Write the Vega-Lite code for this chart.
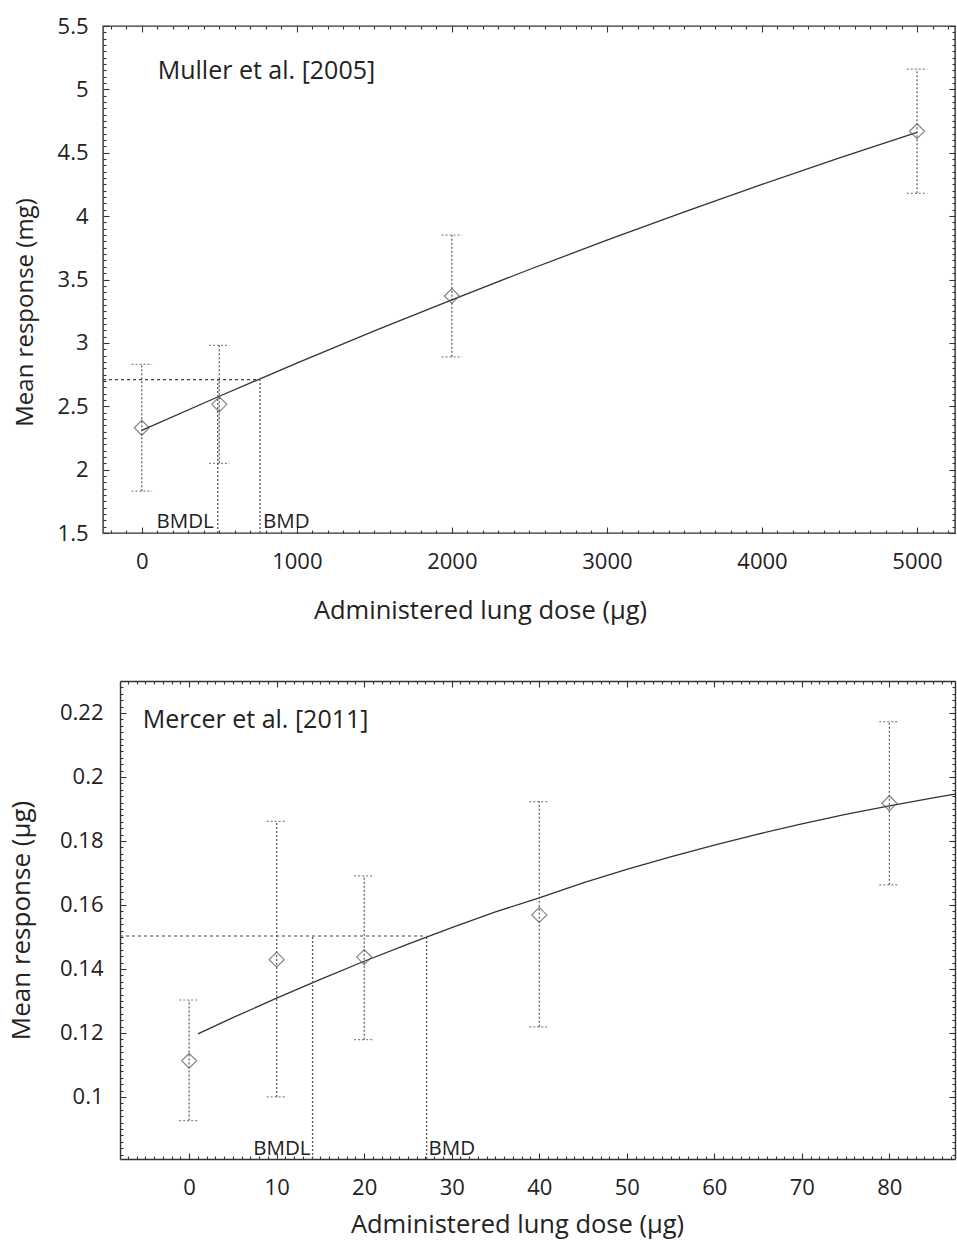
{
  "$schema": "https://vega.github.io/schema/vega-lite/v6.json",
  "background": "white",
  "padding": {"left": 8, "top": 14, "right": 2, "bottom": 2},
  "spacing": 45,
  "datasets": {
    "mullerObs": [
      {"dose": 0, "mean": 2.33, "lo": 1.83, "hi": 2.83},
      {"dose": 500, "mean": 2.515, "lo": 2.05, "hi": 2.98},
      {"dose": 2000, "mean": 3.37, "lo": 2.89, "hi": 3.85},
      {"dose": 5000, "mean": 4.67, "lo": 4.18, "hi": 5.16}
    ],
    "mullerFit": [
      {"dose": 0, "resp": 2.31},
      {"dose": 500, "resp": 2.579},
      {"dose": 1000, "resp": 2.84},
      {"dose": 1500, "resp": 3.094},
      {"dose": 2000, "resp": 3.34},
      {"dose": 2500, "resp": 3.579},
      {"dose": 3000, "resp": 3.81},
      {"dose": 3500, "resp": 4.034},
      {"dose": 4000, "resp": 4.25},
      {"dose": 4500, "resp": 4.459},
      {"dose": 5000, "resp": 4.66}
    ],
    "mullerBmd": [
      {"name": "BMDL", "dose": 490, "level": 2.71, "floor": 1.5, "start": -250},
      {"name": "BMD", "dose": 763, "level": 2.71, "floor": 1.5, "start": -250}
    ],
    "mullerNote": [{"dose": 103, "resp": 5.08, "text": "Muller et al. [2005]"}],
    "mercerObs": [
      {"dose": 0, "mean": 0.1113, "lo": 0.0926, "hi": 0.1303},
      {"dose": 10, "mean": 0.1429, "lo": 0.1, "hi": 0.1861},
      {"dose": 20, "mean": 0.1437, "lo": 0.1179, "hi": 0.1691},
      {"dose": 40, "mean": 0.1569, "lo": 0.1219, "hi": 0.1923},
      {"dose": 80, "mean": 0.1918, "lo": 0.1663, "hi": 0.2173}
    ],
    "mercerFit": [
      {"dose": 1, "resp": 0.1197},
      {"dose": 5, "resp": 0.12477},
      {"dose": 10, "resp": 0.13089},
      {"dose": 15, "resp": 0.13677},
      {"dose": 20, "resp": 0.1424},
      {"dose": 25, "resp": 0.14779},
      {"dose": 30, "resp": 0.15294},
      {"dose": 35, "resp": 0.15784},
      {"dose": 40, "resp": 0.1622},
      {"dose": 45, "resp": 0.16692},
      {"dose": 50, "resp": 0.17109},
      {"dose": 55, "resp": 0.17502},
      {"dose": 60, "resp": 0.1787},
      {"dose": 65, "resp": 0.18214},
      {"dose": 70, "resp": 0.18534},
      {"dose": 75, "resp": 0.18829},
      {"dose": 80, "resp": 0.191},
      {"dose": 85, "resp": 0.19347},
      {"dose": 87.5, "resp": 0.19461}
    ],
    "mercerBmd": [
      {"name": "BMDL", "dose": 14.1, "level": 0.1503, "floor": 0.0806, "start": -7.9},
      {"name": "BMD", "dose": 27.13, "level": 0.1503, "floor": 0.0806, "start": -7.9}
    ],
    "mercerNote": [{"dose": -5.3, "resp": 0.2153, "text": "Mercer et al. [2011]"}]
  },
  "config": {
    "view": {"stroke": "#333", "strokeWidth": 1.4},
    "axis": {
      "domain": false, "grid": false,
      "tickColor": "#333", "tickWidth": 1.1,
      "labelFont": "Open Sans", "labelFontSize": 22, "labelColor": "#222",
      "titleFont": "Open Sans", "titleFontSize": 25, "titleFontWeight": "normal", "titleColor": "#222",
      "labelOverlap": false, "labelFlush": false
    },
    "text": {"font": "Open Sans", "color": "#222"}
  },
  "vconcat": [
    {
      "width": 852, "height": 507,
      "resolve": {"axis": {"x": "independent", "y": "independent"}},
      "layer": [
        {
          "data": {"name": "mullerObs"},
          "mark": {"type": "rule", "strokeDash": [2, 2], "color": "#555", "strokeWidth": 1.2},
          "encoding": {
            "x": {"field": "dose", "type": "quantitative",
              "scale": {"domain": [-250, 5245], "nice": false, "zero": false},
              "axis": {"title": "Administered lung dose (μg)", "tickCount": 55, "format": "~r",
                "labelExpr": "abs(datum.value/1000 - round(datum.value/1000)) < 1e-6 ? datum.label : ''",
                "tickSize": {"condition": {"test": "abs(datum.value/1000 - round(datum.value/1000)) < 1e-6", "value": -6}, "value": -3},
                "labelPadding": 24, "titlePadding": 23, "titleFontSize": 25.5, "titleX": 377}},
            "y": {"field": "lo", "type": "quantitative",
              "scale": {"domain": [1.5, 5.5], "nice": false, "zero": false},
              "axis": {"title": "Mean response (mg)", "tickCount": 80, "format": "~r",
                "labelExpr": "abs(datum.value*2 - round(datum.value*2)) < 1e-6 ? datum.label : ''",
                "tickSize": {"condition": {"test": "abs(datum.value*2 - round(datum.value*2)) < 1e-6", "value": -6}, "value": -3},
                "labelPadding": 21, "titlePadding": 20, "titleFontSize": 24, "titleY": 286}},
            "y2": {"field": "hi"}
          }
        },
        {
          "data": {"name": "mullerFit"},
          "mark": {"type": "line", "color": "#333", "strokeWidth": 1.3},
          "encoding": {
            "x": {"field": "dose", "type": "quantitative",
              "axis": {"orient": "top", "title": null, "labels": false, "tickCount": 55,
                "tickSize": {"condition": {"test": "abs(datum.value/1000 - round(datum.value/1000)) < 1e-6", "value": -6}, "value": -3}}},
            "y": {"field": "resp", "type": "quantitative",
              "axis": {"orient": "right", "title": null, "labels": false, "tickCount": 80,
                "tickSize": {"condition": {"test": "abs(datum.value*2 - round(datum.value*2)) < 1e-6", "value": -6}, "value": -3}}}
          }
        },
        {
          "data": {"name": "mullerObs"},
          "mark": {"type": "point", "shape": "M-1,0H1", "size": 420, "filled": false, "strokeDash": [2, 2], "color": "#555", "strokeWidth": 1.2},
          "encoding": {
            "x": {"field": "dose", "type": "quantitative", "axis": null},
            "y": {"field": "hi", "type": "quantitative", "axis": null}
          }
        },
        {
          "data": {"name": "mullerObs"},
          "mark": {"type": "point", "shape": "M-1,0H1", "size": 420, "filled": false, "strokeDash": [2, 2], "color": "#555", "strokeWidth": 1.2},
          "encoding": {
            "x": {"field": "dose", "type": "quantitative", "axis": null},
            "y": {"field": "lo", "type": "quantitative", "axis": null}
          }
        },
        {
          "data": {"name": "mullerObs"},
          "mark": {"type": "point", "shape": "diamond", "size": 225, "filled": false, "color": "#555", "strokeWidth": 1.2},
          "encoding": {
            "x": {"field": "dose", "type": "quantitative", "axis": null},
            "y": {"field": "mean", "type": "quantitative", "axis": null}
          }
        },
        {
          "data": {"name": "mullerBmd"},
          "transform": [{"filter": "datum.name === 'BMD'"}],
          "mark": {"type": "rule", "strokeDash": [3, 3], "color": "#444", "strokeWidth": 1.2},
          "encoding": {
            "x": {"field": "start", "type": "quantitative", "axis": null},
            "x2": {"field": "dose"},
            "y": {"field": "level", "type": "quantitative", "axis": null}
          }
        },
        {
          "data": {"name": "mullerBmd"},
          "mark": {"type": "rule", "strokeDash": [2, 2], "color": "#555", "strokeWidth": 1.3},
          "encoding": {
            "x": {"field": "dose", "type": "quantitative", "axis": null},
            "y": {"field": "floor", "type": "quantitative", "axis": null},
            "y2": {"field": "level"}
          }
        },
        {
          "data": {"name": "mullerBmd"},
          "transform": [{"filter": "datum.name === 'BMDL'"}],
          "mark": {"type": "text", "align": "right", "baseline": "alphabetic", "dx": -4, "dy": -5, "fontSize": 20.5},
          "encoding": {
            "x": {"field": "dose", "type": "quantitative", "axis": null},
            "y": {"field": "floor", "type": "quantitative", "axis": null},
            "text": {"field": "name"}
          }
        },
        {
          "data": {"name": "mullerBmd"},
          "transform": [{"filter": "datum.name === 'BMD'"}],
          "mark": {"type": "text", "align": "left", "baseline": "alphabetic", "dx": 3, "dy": -5, "fontSize": 20.5},
          "encoding": {
            "x": {"field": "dose", "type": "quantitative", "axis": null},
            "y": {"field": "floor", "type": "quantitative", "axis": null},
            "text": {"field": "name"}
          }
        },
        {
          "data": {"name": "mullerNote"},
          "mark": {"type": "text", "align": "left", "baseline": "alphabetic", "fontSize": 25},
          "encoding": {
            "x": {"field": "dose", "type": "quantitative", "axis": null},
            "y": {"field": "resp", "type": "quantitative", "axis": null},
            "text": {"field": "text"}
          }
        }
      ]
    },
    {
      "width": 852, "height": 478,
      "view": {"stroke": null},
      "resolve": {"axis": {"x": "independent", "y": "independent"}},
      "layer": [
        {
          "data": {"name": "mercerObs"},
          "mark": {"type": "rule", "strokeDash": [2, 2], "color": "#555", "strokeWidth": 1.2},
          "encoding": {
            "x": {"field": "dose", "type": "quantitative",
              "scale": {"domain": [-7.9, 87.5], "nice": false, "zero": false, "range": [17, 852]},
              "axis": {"title": "Administered lung dose (μg)", "tickCount": 95, "format": "~r",
                "domain": true, "domainColor": "#333", "domainWidth": 1.4,
                "labelExpr": "abs(datum.value/10 - round(datum.value/10)) < 1e-6 ? datum.label : ''",
                "tickSize": {"condition": {"test": "abs(datum.value/10 - round(datum.value/10)) < 1e-6", "value": -6}, "value": -3},
                "labelPadding": 24, "titlePadding": 11, "titleFontSize": 25.5, "titleX": 414}},
            "y": {"field": "lo", "type": "quantitative",
              "scale": {"domain": [0.0806, 0.23], "nice": false, "zero": false},
              "axis": {"title": "Mean response (μg)", "tickCount": 75, "format": "~r", "offset": -17,
                "domain": true, "domainColor": "#333", "domainWidth": 1.4,
                "labelExpr": "abs(datum.value*50 - round(datum.value*50)) < 1e-6 ? datum.label : ''",
                "tickSize": {"condition": {"test": "abs(datum.value*50 - round(datum.value*50)) < 1e-6", "value": -6}, "value": -3},
                "labelPadding": 23, "titlePadding": 25, "titleFontSize": 26}},
            "y2": {"field": "hi"}
          }
        },
        {
          "data": {"name": "mercerFit"},
          "mark": {"type": "line", "color": "#333", "strokeWidth": 1.3},
          "encoding": {
            "x": {"field": "dose", "type": "quantitative",
              "axis": {"orient": "top", "title": null, "labels": false, "tickCount": 95,
                "domain": true, "domainColor": "#333", "domainWidth": 1.4,
                "tickSize": {"condition": {"test": "abs(datum.value/10 - round(datum.value/10)) < 1e-6", "value": -6}, "value": -3}}},
            "y": {"field": "resp", "type": "quantitative",
              "axis": {"orient": "right", "title": null, "labels": false, "tickCount": 75,
                "domain": true, "domainColor": "#333", "domainWidth": 1.4,
                "tickSize": {"condition": {"test": "abs(datum.value*50 - round(datum.value*50)) < 1e-6", "value": -6}, "value": -3}}}
          }
        },
        {
          "data": {"name": "mercerObs"},
          "mark": {"type": "point", "shape": "M-1,0H1", "size": 400, "filled": false, "strokeDash": [2, 2], "color": "#555", "strokeWidth": 1.2},
          "encoding": {
            "x": {"field": "dose", "type": "quantitative", "axis": null},
            "y": {"field": "hi", "type": "quantitative", "axis": null}
          }
        },
        {
          "data": {"name": "mercerObs"},
          "mark": {"type": "point", "shape": "M-1,0H1", "size": 400, "filled": false, "strokeDash": [2, 2], "color": "#555", "strokeWidth": 1.2},
          "encoding": {
            "x": {"field": "dose", "type": "quantitative", "axis": null},
            "y": {"field": "lo", "type": "quantitative", "axis": null}
          }
        },
        {
          "data": {"name": "mercerObs"},
          "mark": {"type": "point", "shape": "diamond", "size": 225, "filled": false, "color": "#555", "strokeWidth": 1.2},
          "encoding": {
            "x": {"field": "dose", "type": "quantitative", "axis": null},
            "y": {"field": "mean", "type": "quantitative", "axis": null}
          }
        },
        {
          "data": {"name": "mercerBmd"},
          "transform": [{"filter": "datum.name === 'BMD'"}],
          "mark": {"type": "rule", "strokeDash": [3, 3], "color": "#444", "strokeWidth": 1.2},
          "encoding": {
            "x": {"field": "start", "type": "quantitative", "axis": null},
            "x2": {"field": "dose"},
            "y": {"field": "level", "type": "quantitative", "axis": null}
          }
        },
        {
          "data": {"name": "mercerBmd"},
          "mark": {"type": "rule", "strokeDash": [2, 2], "color": "#555", "strokeWidth": 1.3},
          "encoding": {
            "x": {"field": "dose", "type": "quantitative", "axis": null},
            "y": {"field": "floor", "type": "quantitative", "axis": null},
            "y2": {"field": "level"}
          }
        },
        {
          "data": {"name": "mercerBmd"},
          "transform": [{"filter": "datum.name === 'BMDL'"}],
          "mark": {"type": "text", "align": "right", "baseline": "alphabetic", "dx": -2, "dy": -4, "fontSize": 20.5},
          "encoding": {
            "x": {"field": "dose", "type": "quantitative", "axis": null},
            "y": {"field": "floor", "type": "quantitative", "axis": null},
            "text": {"field": "name"}
          }
        },
        {
          "data": {"name": "mercerBmd"},
          "transform": [{"filter": "datum.name === 'BMD'"}],
          "mark": {"type": "text", "align": "left", "baseline": "alphabetic", "dx": 2, "dy": -4, "fontSize": 20.5},
          "encoding": {
            "x": {"field": "dose", "type": "quantitative", "axis": null},
            "y": {"field": "floor", "type": "quantitative", "axis": null},
            "text": {"field": "name"}
          }
        },
        {
          "data": {"name": "mercerNote"},
          "mark": {"type": "text", "align": "left", "baseline": "alphabetic", "fontSize": 25},
          "encoding": {
            "x": {"field": "dose", "type": "quantitative", "axis": null},
            "y": {"field": "resp", "type": "quantitative", "axis": null},
            "text": {"field": "text"}
          }
        }
      ]
    }
  ]
}
